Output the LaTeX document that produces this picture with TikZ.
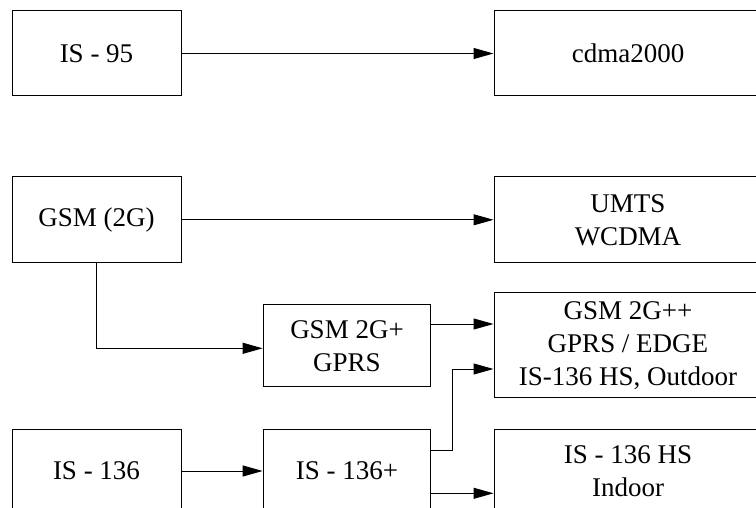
\documentclass[tikz,border=0pt]{standalone}
\usepackage{fontspec}
\setmainfont{Liberation Serif}
\usetikzlibrary{arrows.meta}
\begin{document}
\begin{tikzpicture}[x=1pt,y=-1pt,
  box/.style={draw,line width=1pt,rectangle,inner sep=0pt,align=center,
    font=\fontsize{27}{33}\selectfont},
  conn/.style={line width=1pt,-{Triangle[length=20pt,width=11pt]}},
  plain/.style={line width=1pt}]
\useasboundingbox (0,0) rectangle (756,508);
\clip (0,0) rectangle (756,508);
\node[box,minimum width=169pt,minimum height=85pt] (is95) at (96.5,53.5) {IS - 95};
\node[box,minimum width=268pt,minimum height=85pt] (cdma) at (628,53.5) {cdma2000};
\node[box,minimum width=169pt,minimum height=86.3pt] (gsm) at (96.5,219.8) {GSM (2G)};
\node[box,minimum width=268pt,minimum height=86.3pt] (umts) at (628,219.8) {UMTS\\WCDMA};
\node[box,minimum width=167.7pt,minimum height=81.7pt] (gsmp) at (347,345.8) {GSM 2G+\\GPRS};
\node[box,minimum width=268pt,minimum height=105pt] (gsmpp) at (628,345.2) {GSM 2G++\\GPRS / EDGE\\IS-136 HS, Outdoor};
\node[box,minimum width=169pt,minimum height=83.5pt] (is136) at (96.5,471) {IS - 136};
\node[box,minimum width=167.7pt,minimum height=83.5pt] (is136p) at (347,471) {IS - 136+};
\node[box,minimum width=268pt,minimum height=83.5pt] (is136hs) at (628,471) {IS - 136 HS\\Indoor};
\draw[conn] (is95.east) -- (cdma.west);
\draw[conn] (gsm.east) -- (umts.west);
\draw[conn] (gsm.south) |- ([yshift=-2.5pt]gsmp.west);
\draw[conn] ([yshift=21.8pt]gsmp.east) -- ([yshift=21.8pt]gsmp.east -| gsmpp.west);
\draw[conn] (is136.east) -- (is136p.west);
\coordinate (bend) at ([yshift=21pt,xshift=21pt]is136p.east);
\draw[conn] ([yshift=21pt]is136p.east) -- (bend) |- ([yshift=-23.8pt]gsmpp.west);
\draw[conn] ([yshift=-22.3pt]is136p.east) -- ([yshift=-22.3pt]is136p.east -| is136hs.west);
\end{tikzpicture}
\end{document}
